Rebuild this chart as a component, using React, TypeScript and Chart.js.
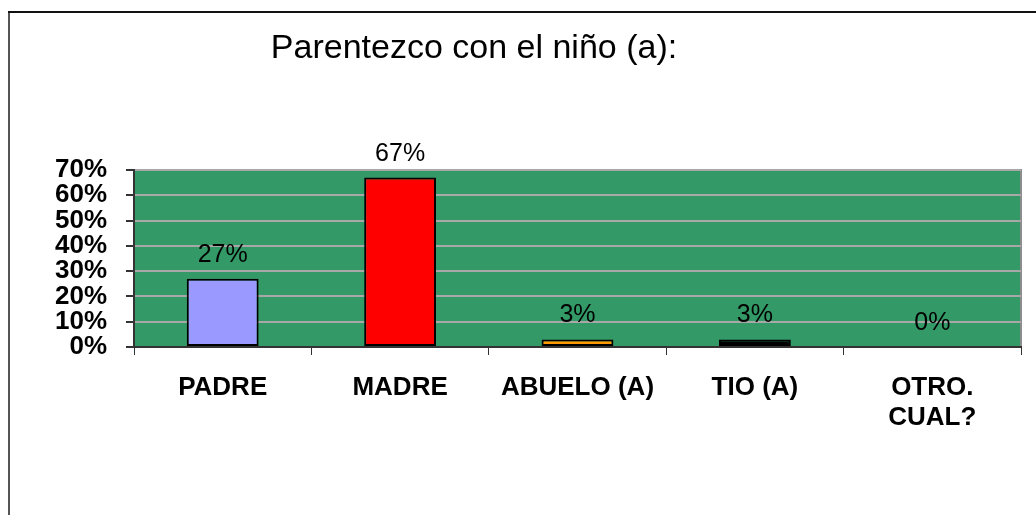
import React, { useEffect, useRef } from "react";
import { Chart, registerables } from "chart.js";

Chart.register(...registerables);

const categories: (string | string[])[] = ["PADRE", "MADRE", "ABUELO (A)", "TIO (A)", ["OTRO.", "CUAL?"]];
const values: number[] = [27, 67, 3, 3, 0];
const barColors: string[] = ["#9999FF", "#FF0000", "#FF9900", "#000000", "#00CCFF"];
const yTicks: number[] = [0, 10, 20, 30, 40, 50, 60, 70];
const titleText = "Parentezco con el niño (a):";

const FONT = '"Liberation Sans", Arial, sans-serif';

const framePlugin = {
  id: "framePlugin",
  beforeDraw(chart: any) {
    const { ctx, chartArea } = chart;
    ctx.save();
    ctx.fillStyle = "#FFFFFF";
    ctx.fillRect(0, 0, chart.width, chart.height);
    ctx.fillStyle = "#339966";
    ctx.fillRect(chartArea.left, chartArea.top, chartArea.right - chartArea.left, chartArea.bottom - chartArea.top);
    ctx.strokeStyle = "#8c8c8c";
    ctx.lineWidth = 2;
    ctx.beginPath();
    ctx.moveTo(chartArea.left, chartArea.top);
    ctx.lineTo(chartArea.right, chartArea.top);
    ctx.lineTo(chartArea.right, chartArea.bottom);
    ctx.stroke();
    ctx.restore();
  },
  afterDraw(chart: any) {
    const { ctx } = chart;
    ctx.save();
    // title
    ctx.fillStyle = "#000000";
    ctx.font = `34px ${FONT}`;
    ctx.textAlign = "center";
    ctx.textBaseline = "alphabetic";
    ctx.fillText(titleText, 474, 58);
    // outer frame
    ctx.strokeStyle = "#555555";
    ctx.lineWidth = 2;
    ctx.beginPath();
    ctx.moveTo(9, chart.height);
    ctx.lineTo(9, 12);
    ctx.stroke();
    ctx.strokeStyle = "#111111";
    ctx.beginPath();
    ctx.moveTo(8, 12);
    ctx.lineTo(chart.width, 12);
    ctx.stroke();
    ctx.restore();
  },
  afterDatasetsDraw(chart: any) {
    const { ctx } = chart;
    const meta = chart.getDatasetMeta(0);
    ctx.save();
    ctx.fillStyle = "#000000";
    ctx.font = `25px ${FONT}`;
    ctx.textAlign = "center";
    ctx.textBaseline = "alphabetic";
    meta.data.forEach((bar: any, i: number) => {
      ctx.fillText(values[i] + "%", bar.x, bar.y - 17);
    });
    ctx.restore();
  },
};

export default function App() {
  const canvasRef = useRef<HTMLCanvasElement | null>(null);

  useEffect(() => {
    const canvas = canvasRef.current;
    if (!canvas) return;
    const chart = new Chart(canvas, {
      type: "bar",
      data: {
        labels: categories,
        datasets: [
          {
            data: values,
            backgroundColor: barColors,
            borderColor: "#000000",
            borderWidth: 2,
            borderSkipped: false,
            barPercentage: 0.405,
            categoryPercentage: 1,
          },
        ],
      },
      options: {
        animation: false,
        responsive: false,
        maintainAspectRatio: false,
        layout: { padding: { left: 0, right: 15, top: 170, bottom: 0 } },
        plugins: {
          legend: { display: false },
          title: { display: false },
          tooltip: { enabled: false },
        },
        scales: {
          x: {
            afterFit: (scale: any) => {
              scale.height = 168;
            },
            grid: {
              display: true,
              drawOnChartArea: false,
              drawTicks: true,
              tickLength: 8,
              tickColor: "#333333",
              offset: true,
            },
            border: { display: true, color: "#333333", width: 2 },
            ticks: {
              color: "#000000",
              font: { family: FONT, size: 26, weight: "bold", lineHeight: 1.15 },
              padding: 18,
              maxRotation: 0,
              autoSkip: false,
            },
          },
          y: {
            min: 0,
            max: 70,
            afterFit: (scale: any) => {
              scale.width = 134;
            },
            afterBuildTicks: (scale: any) => {
              scale.ticks = yTicks.map((v) => ({ value: v }));
            },
            grid: {
              color: (c: any) => (c.tick && c.tick.value === 0 ? "rgba(0,0,0,0)" : "#a8a8a8"),
              lineWidth: 2,
              tickLength: 8,
              tickColor: "#333333",
            },
            border: { display: true, color: "#333333", width: 2 },
            ticks: {
              color: "#000000",
              font: { family: FONT, size: 26, weight: "bold" },
              padding: 19,
              autoSkip: false,
              callback: (v: any) => v + "%",
            },
          },
        },
      },
      plugins: [framePlugin],
    });
    return () => chart.destroy();
  }, []);

  return (
    <div style={{ position: "fixed", left: 0, top: 0, width: 1036, height: 515, background: "#fff" }}>
      <canvas ref={canvasRef} width={1036} height={515} style={{ display: "block", width: 1036, height: 515 }} />
    </div>
  );
}
